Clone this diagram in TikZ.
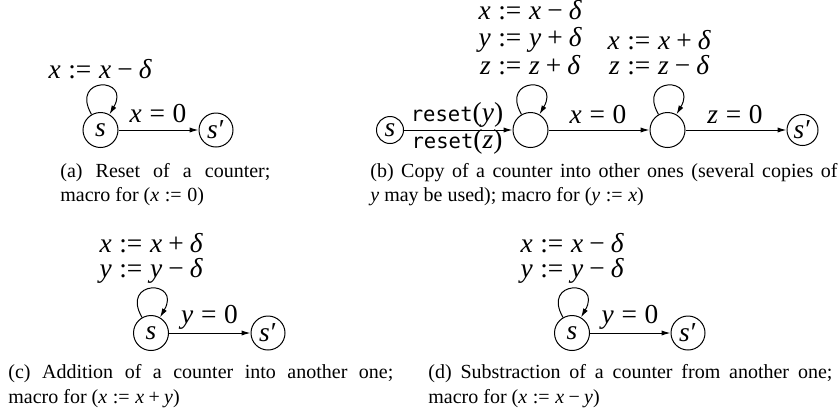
\documentclass[tikz,border=0pt]{standalone}
\usepackage{graphicx}
\usepackage{fontspec}
\setmainfont{Liberation Serif}
\newfontfamily\lblfont{Liberation Serif}
\newfontfamily\monof{DejaVu Sans Mono}
\usetikzlibrary{arrows.meta}
\newcommand\mv[1]{{\itshape #1}}
\newcommand\lbl[1]{\scalebox{1.37}{#1}}
\newcommand\asg[4]{\mv{#1}\hspace{.28em}:=\hspace{.28em}\mv{#2}\hspace{.22em}#3\hspace{.22em}\mv{#4}}
\newcommand\eqz[1]{\mv{#1}\hspace{.28em}=\hspace{.28em}0}
\newcommand\sprm{\mv{s}\kern.04em′}
\newcommand\rst[1]{{\monof\fontsize{7.5}{9}\selectfont reset}(\mv{#1})}
\tikzset{
  state/.style={circle,draw,line width=0.5pt,inner sep=0pt,minimum size=17.5pt,font=\lblfont\fontsize{10}{12}\selectfont},
  lab/.style={font=\lblfont\fontsize{10}{12}\selectfont,inner sep=0pt,anchor=base},
  captxt/.style={font=\lblfont\fontsize{10}{12}\selectfont,inner sep=0pt,anchor=base west},
  arr/.style={-{Latex[length=4.5pt,width=2.6pt]},line width=0.5pt},
}
\begin{document}
\begin{tikzpicture}[x=0.5pt,y=0.5pt]
\useasboundingbox (0,0) rectangle (840,-419);
% ---------- (a)
\node[lab] (al) at (100,-78) {\lbl{\asg{x}{x}{−}{δ}}};
\node[state] (as) at (100.5,-130) {\lbl{\mv{s}}};
\node[state,minimum size=17pt] (ap) at (216,-130) {\lbl{\sprm}};
\draw[arr] (as.120) .. controls +(120:44) and +(60:44) .. (as.60);
\draw[arr] (as) -- (ap);
\node[lab] (ae) at (158,-122) {\lbl{\eqz{x}}};
\node[captxt] (ac1) at (60,-177) {\makebox[105pt][s]{(a) Reset of a counter;}};
\node[captxt] (ac2) at (60,-201.5) {macro for (\mv{x}\hspace{.28em}:=\hspace{.28em}0)};
% ---------- (b)
\node[lab] (bl1) at (530,-19) {\lbl{\asg{x}{x}{−}{δ}}};
\node[lab] (bl2) at (530,-46) {\lbl{\asg{y}{y}{+}{δ}}};
\node[lab] (bl3) at (530,-74) {\lbl{\asg{z}{z}{+}{δ}}};
\node[lab] (bm1) at (659,-49) {\lbl{\asg{x}{x}{+}{δ}}};
\node[lab] (bm2) at (659,-74) {\lbl{\asg{z}{z}{−}{δ}}};
\node[state,minimum size=13.5pt] (bs) at (390,-130) {\lbl{\mv{s}}};
\node[state] (b2) at (530.5,-130) {};
\node[state] (b3) at (667.5,-130) {};
\node[state,minimum size=15.5pt] (bp) at (802.5,-130) {\lbl{\sprm}};
\draw[arr] (b2.120) .. controls +(120:44) and +(60:44) .. (b2.60);
\draw[arr] (b3.120) .. controls +(120:44) and +(60:44) .. (b3.60);
\draw[arr] (bs) -- (b2);
\draw[arr] (b2) -- (b3);
\draw[arr] (b3) -- (bp);
\node[lab] (br1) at (457,-121) {\lbl{\rst{y}}};
\node[lab] (br2) at (457,-148) {\lbl{\rst{z}}};
\node[lab] (be1) at (598,-123) {\lbl{\eqz{x}}};
\node[lab] (be2) at (735,-123) {\lbl{\eqz{z}}};
\node[captxt] (bc1) at (370,-177) {\makebox[233.5pt][s]{(b) Copy of a counter into other ones (several copies of}};
\node[captxt] (bc2) at (370,-201.5) {\mv{y} may be used); macro for (\mv{y}\hspace{.28em}:=\hspace{.28em}\mv{x})};
% ---------- (c)
\node[lab] (cl1) at (151,-252) {\lbl{\asg{x}{x}{+}{δ}}};
\node[lab] (cl2) at (151,-277) {\lbl{\asg{y}{y}{−}{δ}}};
\node[state] (cs) at (151,-333) {\lbl{\mv{s}}};
\node[state,minimum size=17pt] (cp) at (268,-333) {\lbl{\sprm}};
\draw[arr] (cs.120) .. controls +(120:44) and +(60:44) .. (cs.60);
\draw[arr] (cs) -- (cp);
\node[lab] (ce) at (209.5,-323) {\lbl{\eqz{y}}};
\node[captxt] (cc1) at (8,-378) {\makebox[192.5pt][s]{(c) Addition of a counter into another one;}};
\node[captxt] (cc2) at (8,-403) {macro for (\asg{x}{x}{+}{y})};
% ---------- (d)
\node[lab] (dl1) at (572,-252) {\lbl{\asg{x}{x}{−}{δ}}};
\node[lab] (dl2) at (572,-277) {\lbl{\asg{y}{y}{−}{δ}}};
\node[state] (ds) at (572,-333) {\lbl{\mv{s}}};
\node[state,minimum size=17pt] (dp) at (688,-333) {\lbl{\sprm}};
\draw[arr] (ds.120) .. controls +(120:44) and +(60:44) .. (ds.60);
\draw[arr] (ds) -- (dp);
\node[lab] (de) at (630,-323) {\lbl{\eqz{y}}};
\node[captxt] (dc1) at (428,-378) {\makebox[202pt][s]{(d) Substraction of a counter from another one;}};
\node[captxt] (dc2) at (428,-403) {macro for (\asg{x}{x}{−}{y})};
\end{tikzpicture}
\end{document}
